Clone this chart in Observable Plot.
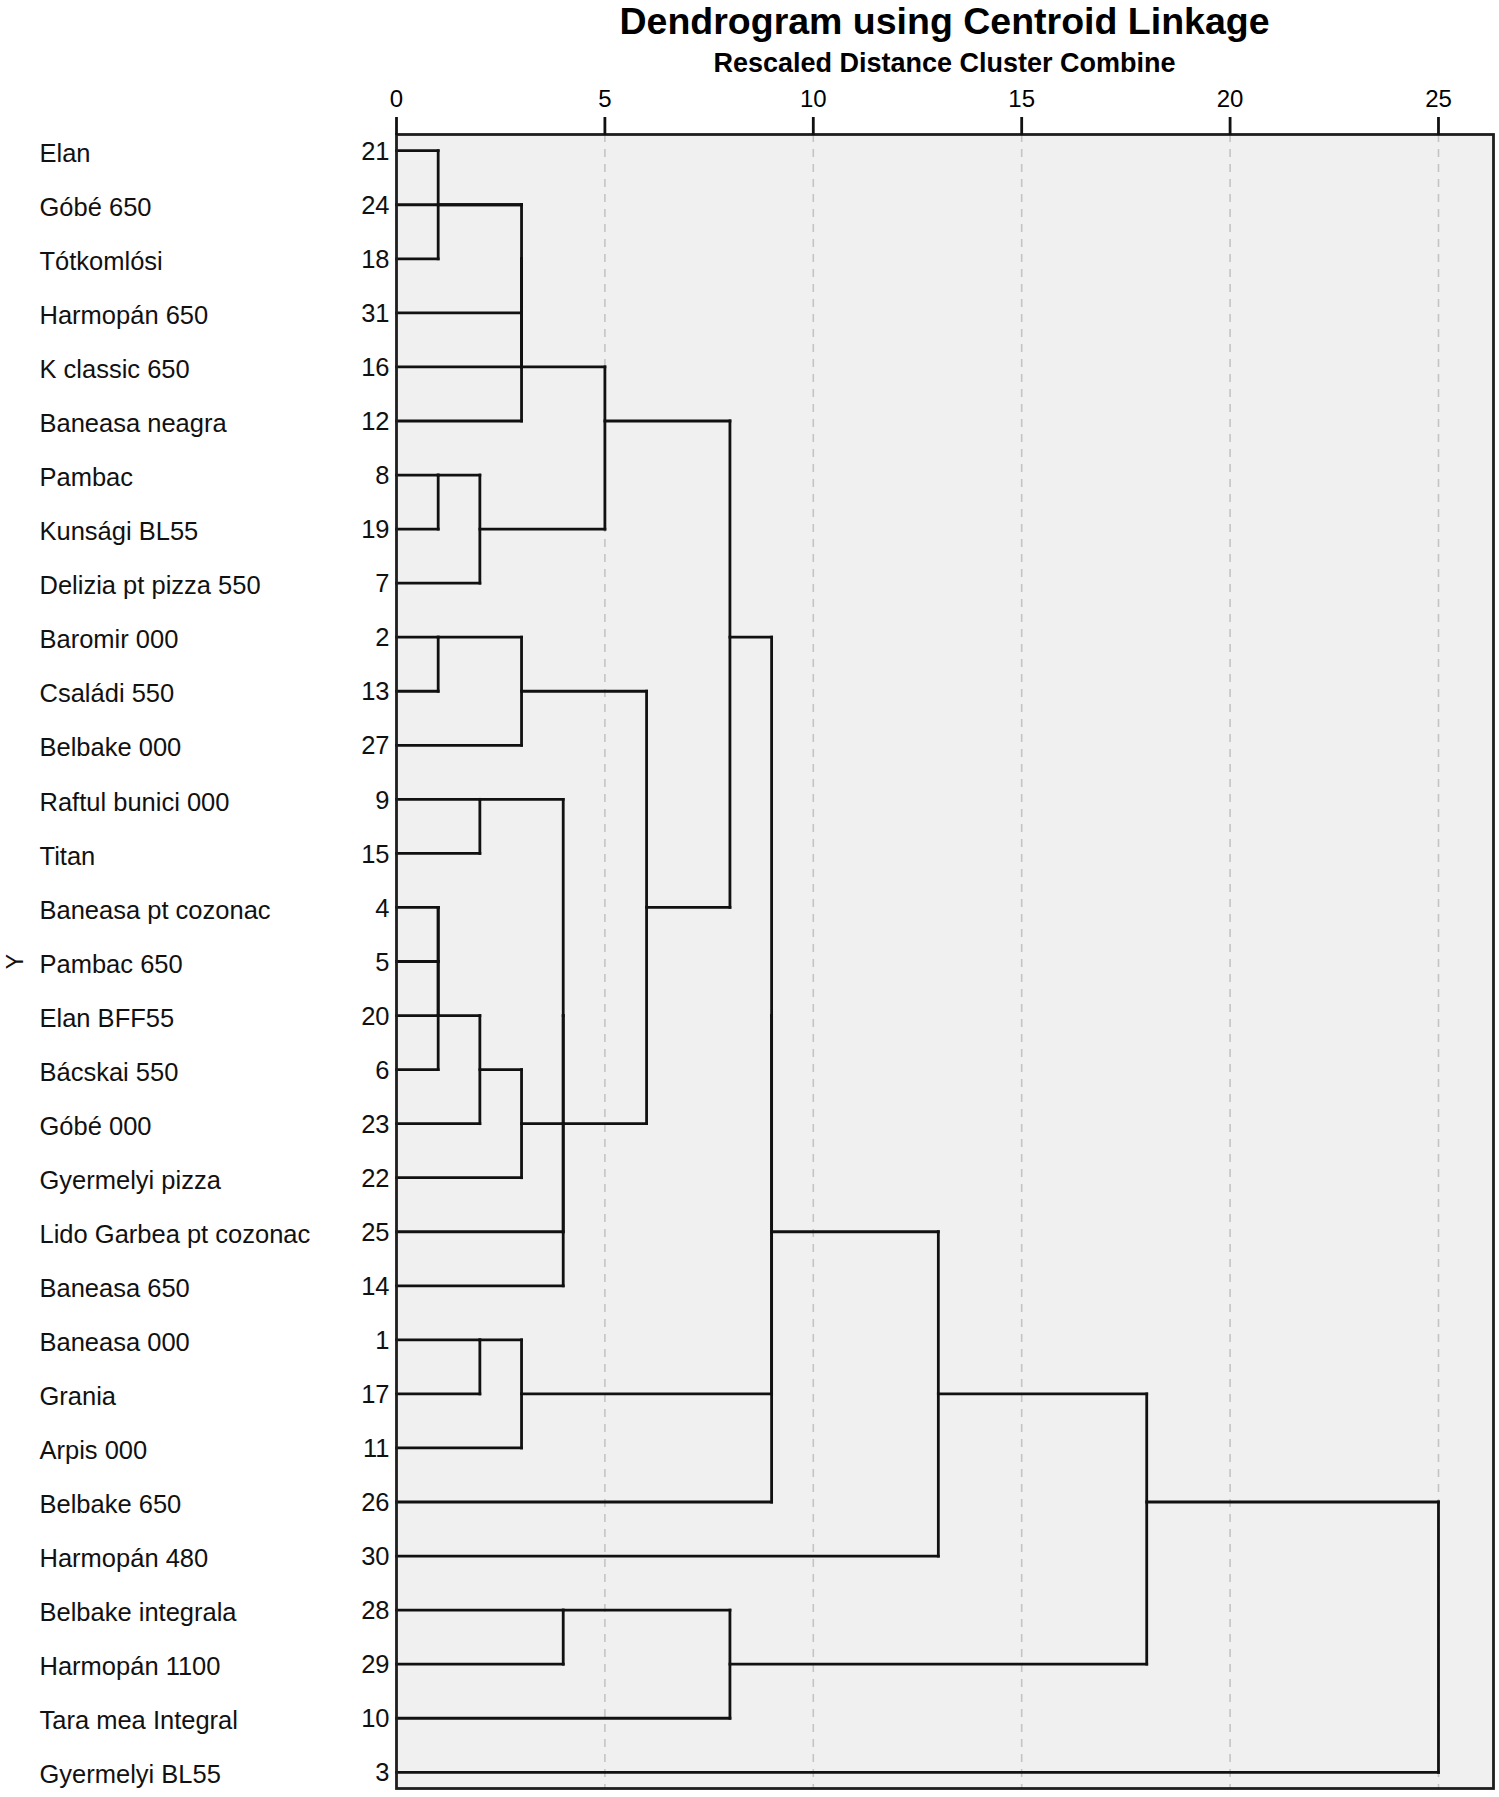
<!DOCTYPE html>
<html><head><meta charset="utf-8">
<script src="https://cdn.jsdelivr.net/npm/d3@7"></script>
<script src="https://cdn.jsdelivr.net/npm/@observablehq/plot@0.6"></script>
<style>
body{margin:0;background:#fff;font-family:"Liberation Sans",Arial,sans-serif;color:#000;}
#head{position:relative;width:1499px;height:78px;}
#title{position:absolute;left:396px;width:1097px;top:0px;text-align:center;font-weight:bold;font-size:37.5px;line-height:42px;}
#sub{position:absolute;left:396px;width:1097px;top:48px;text-align:center;font-weight:bold;font-size:27px;line-height:30px;}
#chart svg{display:block;}
</style></head><body>
<div id="head"><div id="title">Dendrogram using Centroid Linkage</div><div id="sub">Rescaled Distance Cluster Combine</div></div>
<div id="chart"></div>
<script>
// Leaves, top to bottom
const leafNames = ["Elan","Góbé 650","Tótkomlósi","Harmopán 650","K classic 650","Baneasa neagra","Pambac","Kunsági BL55","Delizia pt pizza 550","Baromir 000","Családi 550","Belbake 000","Raftul bunici 000","Titan","Baneasa pt cozonac","Pambac 650","Elan BFF55","Bácskai 550","Góbé 000","Gyermelyi pizza","Lido Garbea pt cozonac","Baneasa 650","Baneasa 000","Grania","Arpis 000","Belbake 650","Harmopán 480","Belbake integrala","Harmopán 1100","Tara mea Integral","Gyermelyi BL55"];
const leafIds = [21,24,18,31,16,12,8,19,7,2,13,27,9,15,4,5,20,6,23,22,25,14,1,17,11,26,30,28,29,10,3];
// Agglomeration steps: L# = leaf row, M# = earlier merge
const mergeA = ["L0","M0","M1","M2","M3","L6","M5","M4","L9","M8","L12","L14","M11","M12","M13","M14","M10","M16","M15","M9","M7","L22","M21","M20","M23","M24","L27","M26","M25","M28"];
const mergeB = ["L2","L1","L3","L4","L5","L7","L8","M6","L10","L11","L13","L15","L16","L17","L18","L19","L20","L21","M17","M18","M19","L23","L24","M22","L25","L26","L28","L29","M27","L30"];
const mergeDist = [1,3,3,3,3,1,2,5,1,3,2,1,1,1,2,3,4,4,4,6,8,2,3,9,9,13,4,8,18,25];
const xTicks = [0,5,10,15,20,25];
const yLabel = "Y";

const exits = [];
function pos(ref){
  const k = +ref.slice(1);
  return ref[0] === "L" ? {x: 0, y: k} : {x: mergeDist[k], y: exits[k]};
}
const segs = [];
mergeA.forEach((a, i) => {
  const pa = pos(a), pb = pos(mergeB[i]), d = mergeDist[i];
  segs.push({x1: pa.x, y1: pa.y, x2: d, y2: pa.y});
  segs.push({x1: pb.x, y1: pb.y, x2: d, y2: pb.y});
  segs.push({x1: d, y1: pa.y, x2: d, y2: pb.y});
  exits[i] = Math.floor((pa.y + pb.y) / 2);
});
const leaves = leafNames.map((n, i) => ({name: n, id: leafIds[i], row: i}));

const chart = Plot.plot({
  width: 1499, height: 1719,
  marginLeft: 396, marginRight: 6, marginTop: 56, marginBottom: 9,
  style: {fontFamily: "'Liberation Sans', Arial, sans-serif", fontSize: "25px", color: "#000", background: "#fff"},
  x: {domain: [0, 26.32], axis: null},
  y: {domain: [-0.3, 30.3], reverse: true, axis: null},
  marks: [
    Plot.frame({fill: "#f0f0f0", stroke: null}),
    Plot.ruleX(xTicks.filter(d => d > 0), {stroke: "#c4c4c4", strokeWidth: 1.6, strokeDasharray: "8,7"}),
    Plot.link(segs, {x1: "x1", y1: "y1", x2: "x2", y2: "y2", stroke: "#111", strokeWidth: 2.8, strokeLinecap: "square"}),
    Plot.frame({stroke: "#1e1e1e", strokeWidth: 2.8}),
    Plot.axisX(xTicks, {anchor: "top", tickSize: 18, tickPadding: 10, fontSize: 24, stroke: "#111", strokeWidth: 2.8, label: null, tickFormat: d => String(d)}),
    Plot.text(leaves, {x: 0, y: "row", text: "name", textAnchor: "start", dx: -357, dy: 3, fontSize: 25.5, fill: "#111"}),
    Plot.text(leaves, {x: 0, y: "row", text: d => String(d.id), textAnchor: "end", dx: -7, dy: 1, fontSize: 25.5, fill: "#111"}),
    Plot.text([yLabel], {x: 0, y: 15.0, text: d => d, rotate: -90, dx: -381, fontSize: 23, fill: "#111"})
  ]
});
document.getElementById("chart").appendChild(chart);
</script>
</body></html>
